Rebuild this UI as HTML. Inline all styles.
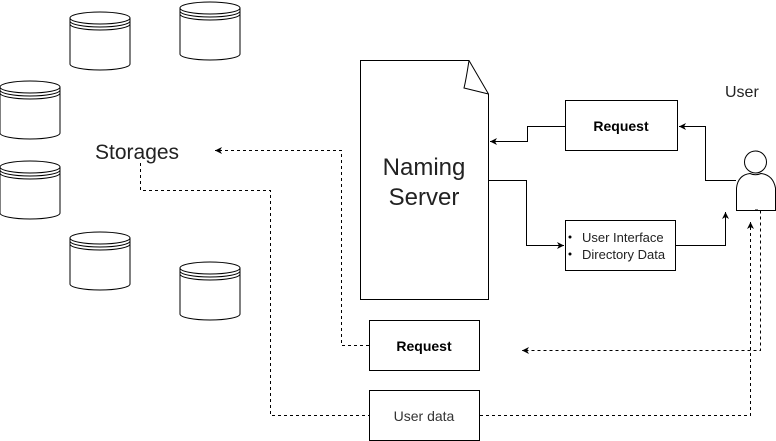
<!DOCTYPE html>
<html><head><style>html,body{margin:0;background:#fff}svg{display:block;font-family:'Liberation Sans',Arial,sans-serif}</style></head><body>
<svg width="776" height="441" viewBox="0 0 776 441" xmlns="http://www.w3.org/2000/svg">
<defs>
<g id="cyl" fill="#fff" stroke="#000" stroke-width="1">
<path d="M0,7 A30,6 0 0 1 60,7 L60,53 A30,6 0 0 1 0,53 Z"/>
<path d="M0,7 A30,6 0 0 0 60,7 M0,10 A30,6 0 0 0 60,10 M0,13 A30,6 0 0 0 60,13" fill="none"/>
</g>
<marker id="a" markerWidth="10" markerHeight="10" refX="8" refY="5" orient="auto" markerUnits="userSpaceOnUse"><path d="M1,1.5 L8,5 L1,8.5 L3,5 Z" fill="#000"/></marker>
</defs>
<use href="#cyl" x="70" y="11"/>
<use href="#cyl" x="180" y="1"/>
<use href="#cyl" x="0" y="80"/>
<use href="#cyl" x="0" y="160"/>
<use href="#cyl" x="70" y="231"/>
<use href="#cyl" x="180" y="261"/>
<text x="95" y="159" font-size="21" fill="#222">Storages</text>
<text x="725" y="97" font-size="16" fill="#222">User</text>
<path d="M360.5,60.5 L469,60.5 L488.5,94 L488.5,299.5 L360.5,299.5 Z" fill="#fff" stroke="#000"/>
<path d="M469,60.5 Q466,80 464,88 L488.5,94" fill="none" stroke="#000"/>
<text x="424" y="175" font-size="24" text-anchor="middle" fill="#222">Naming</text>
<text x="424" y="205" font-size="24" text-anchor="middle" fill="#222">Server</text>
<rect x="565.5" y="100.5" width="112" height="50" fill="#fff" stroke="#000"/>
<text x="621" y="131" font-size="14" font-weight="bold" text-anchor="middle">Request</text>
<rect x="565.5" y="220.5" width="110" height="50" fill="#fff" stroke="#000"/>
<circle cx="570" cy="237" r="1.5"/><circle cx="570" cy="254" r="1.5"/>
<text x="582" y="242" font-size="13" fill="#222">User Interface</text>
<text x="582" y="259" font-size="13" fill="#222">Directory Data</text>
<rect x="369.5" y="320.5" width="110" height="50" fill="#fff" stroke="#000"/>
<text x="424" y="351" font-size="14" font-weight="bold" text-anchor="middle">Request</text>
<rect x="369.5" y="390.5" width="110" height="50" fill="#fff" stroke="#000"/>
<text x="424" y="421" font-size="14" text-anchor="middle" fill="#333">User data</text>
<circle cx="755.5" cy="162" r="11" fill="#fff" stroke="#000"/>
<path d="M736.5,210.5 L736.5,188 Q738,175 750,173.5 Q755.5,176 761,173.5 Q773,175 775.5,188 L775.5,210.5 Z" fill="#fff" stroke="#000"/>
<g fill="none" stroke="#000" stroke-width="1">
<path d="M565,126.5 L527.5,126.5 L527.5,141.5 L490,141.5" marker-end="url(#a)"/>
<path d="M736,180.5 L705.5,180.5 L705.5,126.5 L679,126.5" marker-end="url(#a)"/>
<path d="M488,180.5 L526.5,180.5 L526.5,245.5 L564,245.5" marker-end="url(#a)"/>
<path d="M675,245.5 L725.5,245.5 L725.5,212" marker-end="url(#a)"/>
</g>
<g fill="none" stroke="#000" stroke-width="1" stroke-dasharray="3,3">
<path d="M369,345.5 L341.5,345.5 L341.5,150.5 L215,150.5" marker-end="url(#a)"/>
<path d="M140.5,163 L140.5,190.5 L270.5,190.5 L270.5,415.5 L369,415.5"/>
<path d="M755,210 L760.5,210 L760.5,350.5 L522,350.5" marker-end="url(#a)"/>
<path d="M480,415.5 L750.5,415.5 L750.5,222" marker-end="url(#a)"/>
</g>
</svg>
</body></html>
